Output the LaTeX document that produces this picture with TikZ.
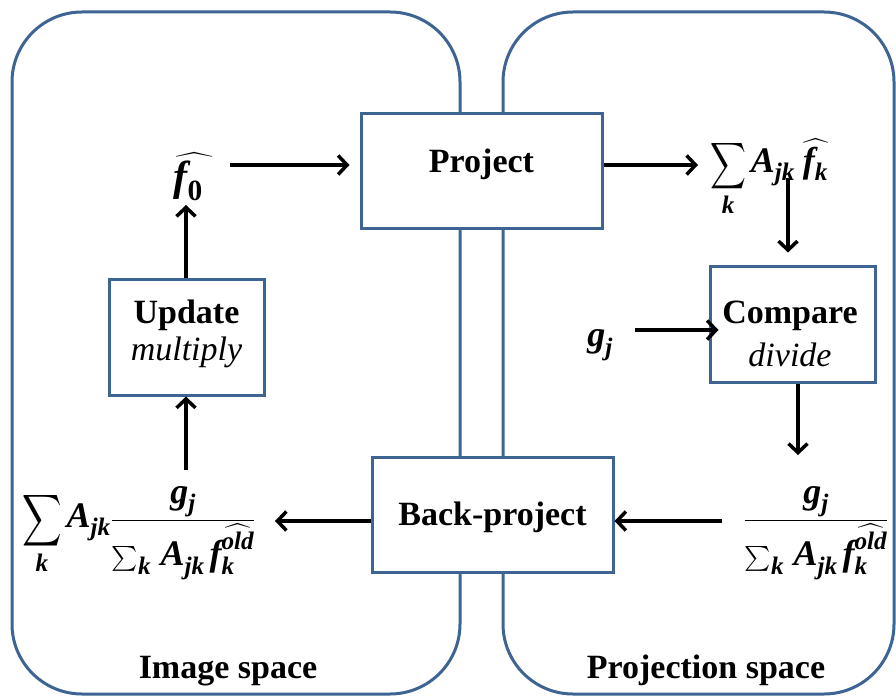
\documentclass[tikz,border=0pt]{standalone}
\usepackage{amsmath}
\usepackage{graphicx}
\usepackage{fontspec}
\setmainfont{Liberation Serif}
\usetikzlibrary{arrows.meta}
\definecolor{panelblue}{RGB}{62,100,148}
\newcommand{\bi}[1]{\text{\bfseries\itshape #1}}
\newcommand{\bu}[1]{\text{\bfseries #1}}
\newcommand{\bsum}[2]{\mathop{\vcenter{\hbox{\scalebox{#1}[#2]{$\displaystyle\sum$}}}}}
\newcommand{\numr}{\raisebox{0pt}[\height][0pt]{$\bi{g}_{\bi{j}}$}}
\newcommand{\denr}{\raisebox{5pt}{$\sum_{\bi{k}}\, \bi{A}_{\bi{jk}}\, \bi{f}_{\bi{k}}^{\widehat{\bi{old}}}$}}
\begin{document}
\begin{tikzpicture}[x=1pt,y=-1pt,
  panel/.style={draw=panelblue, line width=3pt, rounded corners=70pt},
  box/.style={draw=panelblue, line width=3pt, fill=white, inner sep=0pt},
  arr/.style={line width=3.5pt, -{Straight Barb[length=9pt,width=19pt]}},
  lbl/.style={font=\fontsize{34}{40}\selectfont\bfseries, inner sep=0pt},
  itl/.style={font=\fontsize{34}{40}\selectfont\itshape, inner sep=0pt},
  mth/.style={font=\fontsize{36}{42}\selectfont\boldmath, inner sep=0pt}
]
\useasboundingbox (0,0) rectangle (896,698);
% panels
\draw[panel] (12,12) rectangle (460,694);
\draw[panel] (503,12) rectangle (894,694);
\node[lbl, anchor=base] (imgsp) at (228,678) {Image space};
\node[lbl, anchor=base] (prjsp) at (706,678) {Projection space};
% boxes
\node[box, minimum width=241pt, minimum height=114pt] (proj) at (481.5,171) {};
\node[lbl, anchor=base] (projt) at (481.5,172) {Project};
\node[box, minimum width=241pt, minimum height=115pt] (bp) at (492.5,514.5) {};
\node[lbl, anchor=base] (bpt) at (492.5,525) {Back-project};
\node[box, minimum width=155pt, minimum height=116pt] (upd) at (186.5,337) {};
\node[lbl, anchor=base] (updt) at (186.5,323) {Update};
\node[itl, anchor=base] (updi) at (186.5,360) {multiply};
\node[box, minimum width=165pt, minimum height=116pt] (cmp) at (792.5,324) {};
\node[lbl, anchor=base] (cmpt) at (790,323) {Compare};
\node[itl, anchor=base] (cmpi) at (790,366) {divide};
% math
\node[mth, font=\fontsize{42}{48}\selectfont\boldmath, anchor=base] (f0) at (194,190) {$\widehat{\bi{f}_{\bu{0}}\hphantom{\bu{i}}}$};
\node[mth, anchor=base west] (sumr) at (710,172) {$\bsum{1.0}{1.3}\limits_{\bi{k}} \bi{A}_{\bi{jk}}\;\widehat{\bi{f}_{\bi{k}}}$};
\node[mth] (gj) at (600,345) {$\bi{g}_{\bi{j}}$};
\node[mth, anchor=base] (fracr) at (816,527) {$\dfrac{\numr}{\denr}$};
\node[mth, anchor=base west] (fracl) at (22,527) {$\displaystyle\bsum{1.1}{1.45}\limits_{\bi{k}} \bi{A}_{\bi{jk}}\frac{\numr}{\denr}$};
% arrow end coordinates
\coordinate (a1) at (230,165);
\coordinate (a2) at (602,165);
\coordinate (a3) at (788,178);
\coordinate (a4) at (635,330);
\coordinate (a5) at (798,382);
\coordinate (a6) at (722,521);
\coordinate (a7) at (275,521);
\coordinate (a8) at (186,470);
\coordinate (a9) at (186,205);
% arrows
\draw[arr] (a1) -- ([xshift=-10pt]a1 -| proj.west);
\draw[arr] (a2 -| proj.east) -- (698,165) coordinate (a2e);
\draw[arr] (a3) -- ([yshift=12pt]a3 |- cmp.north);
\draw[arr] (a4) -- ([xshift=10pt]a4 -| cmp.west);
\draw[arr] (a5 |- cmp.south) -- (798,455) coordinate (a5e);
\draw[arr] (a6) -- (a6 -| bp.east);
\draw[arr] (a6 -| bp.west) -- (a7);
\draw[arr] (a8) -- (a8 |- upd.south);
\draw[arr] (a9 |- upd.north) -- (a9);
\end{tikzpicture}
\end{document}
